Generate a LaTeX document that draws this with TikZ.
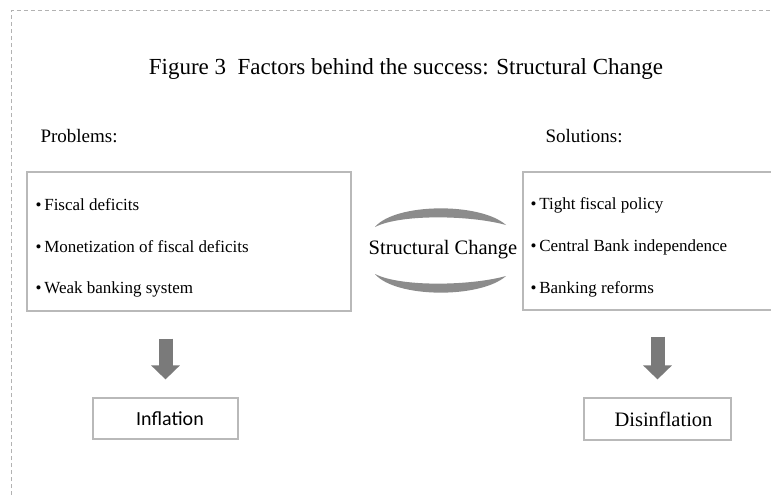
\documentclass[tikz,border=0pt]{standalone}
\usepackage{fontspec}
\setmainfont{Liberation Serif}
\newfontfamily\sansbox{Carlito}
\usetikzlibrary{arrows.meta,positioning}

\tikzset{
    box/.style={draw=gray!55,line width=1.2pt,inner sep=0pt},
    itemtext/.style={anchor=west,font=\fontsize{17}{19}\selectfont},
    headtext/.style={anchor=west,font=\fontsize{19}{21}\selectfont},
    blockarrow/.style={draw=black!52,line width=14pt,-{Triangle[width=28pt,length=14pt]}},
    swirl/.style={draw=none,fill=black!45}
}

\begin{document}
\begin{tikzpicture}[x=1pt,y=-1pt]

        % Page and frame
        \useasboundingbox (0,0) rectangle (771,495);
        \clip (0,0) rectangle (771,495);
        \fill[white] (0,0) rectangle (771,495);
        \draw[gray!60,line width=1pt,dash pattern=on 4pt off 3pt] (11,495) -- (11,11) -- (771,11);

        % Title
        \node[font=\fontsize{23}{27}\selectfont] (title) at (406,69) {Figure 3\enspace Factors behind the success: Structural Change};

        % Labels
        \node[headtext] (problab) at (37,136) {Problems:};
        \node[headtext] (sollab) at (542,136) {Solutions:};

        % Boxes
        \node[box,minimum width=324,minimum height=139] (probs) at (189,241.5) {};
        \node[box,minimum width=277,minimum height=138] (sols) at (661.5,241) {};

        % Items
        \foreach \txt [count=\i] in {Fiscal deficits,Monetization of fiscal deficits,Weak banking system} {
            \node[itemtext] (p\i) at (32,163+42*\i) {\textbullet\,\txt};
        }
        \foreach \txt [count=\i] in {Tight fiscal policy,Central Bank independence,Banking reforms} {
            \node[itemtext] (s\i) at (527,163+42*\i) {\textbullet\,\txt};
        }

        % Structural change
        \node[font=\fontsize{20.5}{24}\selectfont] (sc) at (443,250) {Structural Change};
        \path[swirl] (375,227) .. controls (395,203) and (480,202) .. (506,225)
            .. controls (470,215) and (400,214) .. cycle;
        \path[swirl] (375,274) .. controls (395,298) and (480,299) .. (506,276)
            .. controls (470,286) and (400,287) .. cycle;

        % Results
        \node[box,minimum width=145,minimum height=41,font=\sansbox\fontsize{20}{24}\selectfont] (infl) at (165.5,418.5) {\hspace*{9pt}Inflation};
        \node[box,minimum width=147,minimum height=42,font=\fontsize{20.5}{24}\selectfont] (disinfl) at (657.5,419) {\hspace*{12pt}Disinflation};

        % Arrows
        \draw[blockarrow,shorten <=27pt,shorten >=18pt] (infl.north |- probs.south) -- (infl.north);
        \draw[blockarrow,shorten <=26pt,shorten >=18pt] (disinfl.north |- sols.south) -- (disinfl.north);

    \end{tikzpicture}
\end{document}
